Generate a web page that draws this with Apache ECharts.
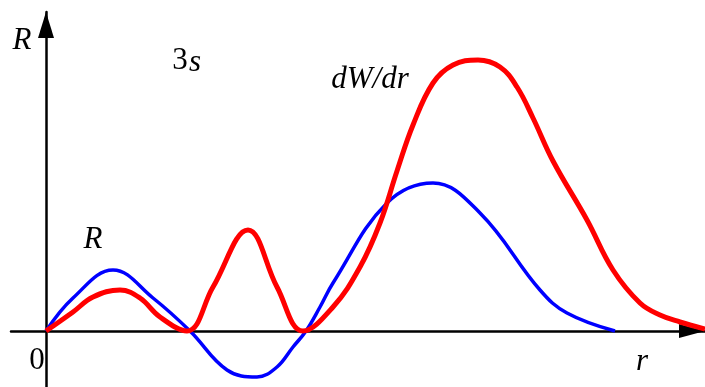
<!DOCTYPE html>
<html><head><meta charset="utf-8">
<script src="https://cdn.jsdelivr.net/npm/echarts@6/dist/echarts.min.js"></script>
<style>html,body{margin:0;padding:0;background:#fff}#c{width:705px;height:387px}</style>
</head><body><div id="c"></div>
<script>
// r positions and values (arbitrary units)
const blueR = [0,27,67,107,144,181,211,231,247,260,274,287,341,387,434,494,521,569];
const blueV = [0,33,61,33,0,-39,-46,-36,-16,0,24,48,128,148,118,41,18,0];
const redR = [0,27,47,74,94,114,141,167,202,231,257,287,314,334,351,367,387,407,432,454,471,487,507,541,567,594,614,634,659];
const redV = [0,19,34,41,33,14,0,44,101,44,0,24,64,108,160,206,248,266,271,264,244,213,170,111,61,28,16,9,2];
const labels = ["R","3","s","R","dW/dr","0","r"];

const chart = echarts.init(document.getElementById('c'));
const font = '"Liberation Serif", "DejaVu Serif", serif';
const txt = (x,y,t,italic) => ({type:'text',x:x,y:y,style:{text:t,font:(italic?'italic ':'')+'31px '+font,fill:'#000',align:'center',verticalAlign:'middle'}});
chart.setOption({
  animation:false,
  grid:{left:11,right:0,top:12,bottom:0,containLabel:false},
  xAxis:{type:'value',min:-35,max:659,
    axisLine:{onZero:true,symbol:['none','triangle'],symbolSize:[14,26],symbolOffset:[0,-13],lineStyle:{color:'#000',width:2.5}},
    axisTick:{show:false},axisLabel:{show:false},splitLine:{show:false}},
  yAxis:{type:'value',min:-56,max:319,
    axisLine:{show:true,onZero:true,symbol:['none','triangle'],symbolSize:[16,26],symbolOffset:[0,-13],lineStyle:{color:'#000',width:2.5}},
    axisTick:{show:false},axisLabel:{show:false},splitLine:{show:false}},
  series:[
    {type:'line',data:blueR.map((r,i)=>[r,blueV[i]]),smooth:0.4,showSymbol:false,lineStyle:{color:'#0000ff',width:3.5},z:3},
    {type:'line',data:redR.map((r,i)=>[r,redV[i]]),smooth:0.4,showSymbol:false,lineStyle:{color:'#ff0000',width:5},z:4}
  ],
  graphic:[
    txt(22,41,labels[0],true),
    txt(180,61,labels[1],false),
    txt(195,63,labels[2],true),
    txt(93,240,labels[3],true),
    txt(370,80,labels[4],true),
    txt(37,361,labels[5],false),
    txt(642,362,labels[6],true)
  ]
});
</script></body></html>
